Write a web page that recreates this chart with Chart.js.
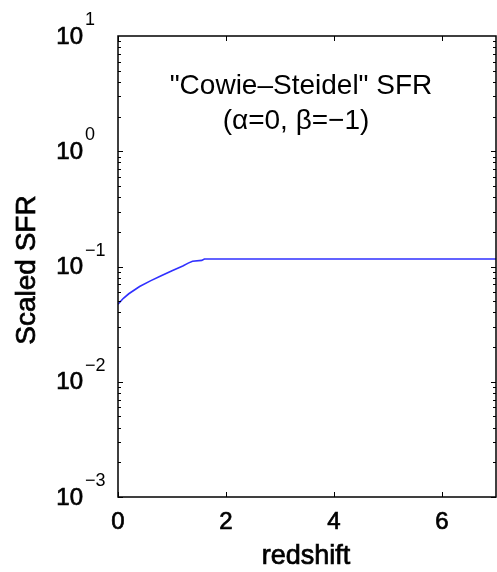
<!doctype html>
<html lang="en">
<head>
    <meta charset="utf-8">
    <title>Scaled SFR</title>
    <script src="https://cdn.jsdelivr.net/npm/chart.js"></script>
    <style>
        html, body {
            margin: 0;
            padding: 0;
            background: #ffffff;
        }

        .kotak {
            position: relative;
            width: 497px;
            height: 572px;
        }
    </style>
</head>
<body>
    <div class="kotak">
        <canvas id="chart"></canvas>
    </div>

    <script>
        // data
        const redshift = [0, 0.1, 0.2, 0.4, 0.6, 0.8, 1.0, 1.2, 1.3, 1.38, 1.55, 1.6, 7];
        const sfr = [0.047, 0.053, 0.058, 0.067, 0.075, 0.083, 0.092, 0.101, 0.107, 0.111, 0.113, 0.116, 0.116];

        const xTicks = [0, 2, 4, 6];
        const yTicks = [1e-3, 1e-2, 1e-1, 1, 10];
        const yExp = ['\u22123', '\u22122', '\u22121', '0', '1'];
        const titleLines = ['"Cowie\u2013Steidel" SFR', '(\u03b1=0, \u03b2=\u22121)'];
        const xTitle = 'redshift';
        const yTitle = 'Scaled SFR';

        const font = '"Liberation Sans", Arial, Helvetica, sans-serif';

        // teks agak tebal: isi + garis tipis
        function teksTebal(ctx, s, x, y) {
            ctx.fillText(s, x, y);
            ctx.lineWidth = 0.7;
            ctx.strokeText(s, x, y);
        }

        const axesPlugin = {
            id: 'axesPlugin',
            afterDraw(chart) {
                const ctx = chart.ctx;
                const a = chart.chartArea;
                const xs = chart.scales.x;
                const ys = chart.scales.y;
                ctx.save();

                // frame
                ctx.strokeStyle = '#000';
                ctx.lineWidth = 1.5;
                ctx.strokeRect(a.left, a.top, a.right - a.left, a.bottom - a.top);

                // x ticks (inward, top and bottom)
                ctx.lineWidth = 1;
                xTicks.forEach(v => {
                    const px = Math.round(xs.getPixelForValue(v)) + 0.5;
                    ctx.beginPath();
                    ctx.moveTo(px, a.bottom);
                    ctx.lineTo(px, a.bottom - 5);
                    ctx.moveTo(px, a.top);
                    ctx.lineTo(px, a.top + 5);
                    ctx.stroke();
                });

                // y ticks, major and minor
                for (let d = -3; d < 1; d++) {
                    for (let m = 1; m < 10; m++) {
                        const py = Math.round(ys.getPixelForValue(m * Math.pow(10, d))) + 0.5;
                        const len = m === 1 ? 5 : 3;
                        ctx.beginPath();
                        ctx.moveTo(a.left, py);
                        ctx.lineTo(a.left + len, py);
                        ctx.moveTo(a.right, py);
                        ctx.lineTo(a.right - len, py);
                        ctx.stroke();
                    }
                }

                ctx.fillStyle = '#000';

                // x tick labels
                ctx.font = '24px ' + font;
                ctx.textAlign = 'center';
                ctx.textBaseline = 'middle';
                xTicks.forEach(v => {
                    teksTebal(ctx, String(v), xs.getPixelForValue(v), a.bottom + 25);
                });

                // y tick labels 10^n
                yTicks.forEach((v, i) => {
                    const py = ys.getPixelForValue(v);
                    ctx.font = '24px ' + font;
                    ctx.textAlign = 'right';
                    ctx.textBaseline = 'middle';
                    teksTebal(ctx, '10', 83, py + 1);
                    ctx.font = '18px ' + font;
                    ctx.textAlign = 'left';
                    ctx.textBaseline = 'alphabetic';
                    ctx.fillText(yExp[i], 85, py - 11);
                });

                // judul di dalam plot
                ctx.font = '28px ' + font;
                ctx.textAlign = 'center';
                ctx.textBaseline = 'middle';
                ctx.fillText(titleLines[0], 301, 86);
                ctx.fillText(titleLines[1], 296, 121);

                // judul sumbu
                ctx.font = '27px ' + font;
                teksTebal(ctx, xTitle, 306, 557);
                ctx.font = '28px ' + font;
                ctx.translate(27, 270);
                ctx.rotate(-Math.PI / 2);
                teksTebal(ctx, yTitle, 0, 0);

                ctx.restore();
            }
        };

        const ctx = document.getElementById('chart').getContext('2d');
        new Chart(ctx, {
            type: 'line',
            data: {
                datasets: [{
                    data: redshift.map((z, i) => ({ x: z, y: sfr[i] })),
                    borderColor: '#3030ff',
                    borderWidth: 1.6,
                    pointRadius: 0,
                    tension: 0,
                    fill: false
                }]
            },
            options: {
                responsive: true,
                maintainAspectRatio: false,
                animation: false,
                layout: {
                    padding: { left: 118, top: 36, right: 1, bottom: 75 }
                },
                plugins: {
                    legend: { display: false },
                    tooltip: { enabled: false }
                },
                scales: {
                    x: {
                        type: 'linear',
                        min: 0,
                        max: 7,
                        display: false
                    },
                    y: {
                        type: 'logarithmic',
                        min: 1e-3,
                        max: 10,
                        display: false
                    }
                }
            },
            plugins: [axesPlugin]
        });
    </script>
</body>
</html>
